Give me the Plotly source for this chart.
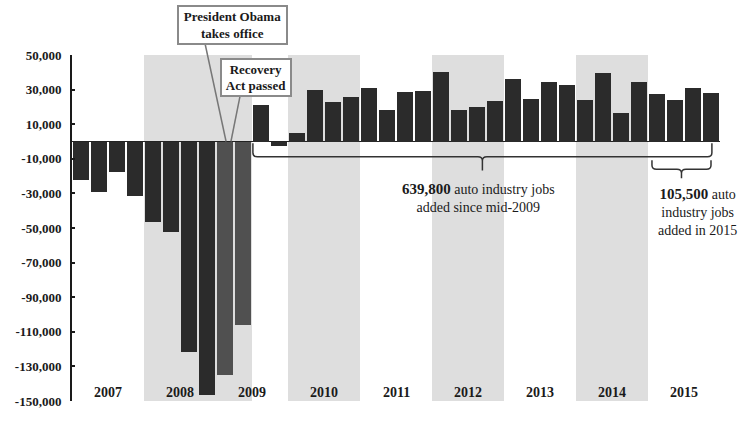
import plotly.graph_objects as go

# Quarterly change in auto industry employment, 2007 Q1 - 2015 Q4
years = ["2007", "2008", "2009", "2010", "2011", "2012", "2013", "2014", "2015"]
quarters_per_year = 4
job_change = [
    -22400, -29200, -17900, -31500,      # 2007
    -46700, -52400, -121800, -146300,    # 2008
    -134800, -106000, 21200, -2800,      # 2009
    4800, 29800, 23000, 25500,           # 2010
    31200, 18500, 28700, 29300,          # 2011
    40000, 18500, 19900, 23300,          # 2012
    36300, 24600, 34600, 32900,          # 2013
    24000, 39700, 16600, 34200,          # 2014
    27200, 24200, 30800, 28300,          # 2015
]
tick_values = [50000, 30000, 10000, -10000, -30000, -50000, -70000,
               -90000, -110000, -130000, -150000]
tick_labels = ["50,000", "30,000", "10,000", "-10,000", "-30,000", "-50,000",
               "-70,000", "-90,000", "-110,000", "-130,000", "-150,000"]

# Shaded periods, as (first quarter index, last quarter index)
shaded_periods = [(4, 9), (12, 15), (20, 23), (28, 31)]
# Quarters drawn in the lighter tone (early 2009)
highlight_quarters = [8, 9]

# Bracketed spans: (first quarter, last quarter, label)
recovery_span = (10, 35)
year_span_2015 = (32, 35)
recovery_label = "<b><span style='font-size:15px'>639,800</span></b> auto industry jobs<br>added since mid-2009"
label_2015 = "<b><span style='font-size:15px'>105,500</span></b> auto<br>industry jobs<br>added in 2015"

FONT = "Liberation Serif, Times New Roman, serif"
DARK = "#2b2b2b"
LIGHT = "#505050"
SHADE = "#dedede"

x_range = (-0.5, len(job_change) - 0.5)
y_range = (-150000, 50000)


def xp(xd):
    return (xd - x_range[0]) / (x_range[1] - x_range[0])


def yp(yd):
    return (yd - y_range[0]) / (y_range[1] - y_range[0])


xs = list(range(len(job_change)))
colors = [LIGHT if i in highlight_quarters else DARK for i in xs]

fig = go.Figure()
fig.add_trace(go.Bar(
    x=xs, y=job_change, marker=dict(color=colors, line=dict(width=0)),
    width=0.88, hoverinfo="skip", showlegend=False,
))

shapes = []
for a, b in shaded_periods:
    shapes.append(dict(type="rect", xref="x", yref="paper", x0=a - 0.5, x1=b + 0.5,
                       y0=0, y1=1, fillcolor=SHADE, line=dict(width=0), layer="below"))


def brace(x0, x1, ytop, ymid, ybot):
    rx, ry = 0.25, 2300
    xc = (x0 + x1) / 2
    pts = [
        ("M", x0, ytop), ("L", x0, ymid + ry), ("Q", x0, ymid, x0 + rx, ymid),
        ("L", xc - rx, ymid), ("Q", xc, ymid, xc, ymid - ry), ("L", xc, ybot),
        ("M", xc, ymid - ry), ("Q", xc, ymid, xc + rx, ymid),
        ("L", x1 - rx, ymid), ("Q", x1, ymid, x1, ymid + ry), ("L", x1, ytop),
    ]
    parts = []
    for p in pts:
        cmd = p[0]
        coords = p[1:]
        s = []
        for i in range(0, len(coords), 2):
            s.append(f"{xp(coords[i]):.5f},{yp(coords[i + 1]):.5f}")
        parts.append(cmd + " " + " ".join(s))
    return " ".join(parts)


shapes.append(dict(type="path", xref="paper", yref="paper",
                   path=brace(recovery_span[0] - 0.45, recovery_span[1] + 0.05, -1000, -8800, -16700),
                   line=dict(color="#333333", width=1.5)))
shapes.append(dict(type="path", xref="paper", yref="paper",
                   path=brace(year_span_2015[0] - 0.28, year_span_2015[1], -10900, -16100, -21300),
                   line=dict(color="#333333", width=1.5)))

# Callout leader lines from the two event boxes down to early 2009
shapes.append(dict(type="line", xref="paper", yref="paper",
                   x0=0.2052, y0=1.034, x1=xp(8.06), y1=yp(0),
                   line=dict(color="#777777", width=1.5)))
shapes.append(dict(type="line", xref="paper", yref="paper",
                   x0=0.2593, y0=0.881, x1=xp(8.33), y1=yp(0),
                   line=dict(color="#777777", width=1.5)))

annotations = []
for k, yr in enumerate(years):
    annotations.append(dict(
        x=k * quarters_per_year + 1.5, y=-145000, xref="x", yref="y",
        text=f"<b>{yr}</b>", showarrow=False, xanchor="center", yanchor="middle",
        font=dict(family=FONT, size=14, color="#1a1a1a"),
    ))

annotations.append(dict(
    x=0.2477, y=1.0878, xref="paper", yref="paper", text="<b>President Obama<br>takes office</b>",
    showarrow=False, xanchor="center", yanchor="middle",
    font=dict(family=FONT, size=13, color="#1a1a1a"),
    bgcolor="white", bordercolor="#8a8a8a", borderwidth=2, borderpad=1,
    width=105, height=34, align="center",
))
annotations.append(dict(
    x=0.284, y=0.936, xref="paper", yref="paper", text="<b>Recovery<br>Act passed</b>",
    showarrow=False, xanchor="center", yanchor="middle",
    font=dict(family=FONT, size=13, color="#1a1a1a"),
    bgcolor="white", bordercolor="#8a8a8a", borderwidth=2, borderpad=1,
    width=66, height=33, align="center",
))
annotations.append(dict(
    x=(recovery_span[0] + recovery_span[1]) / 2 - 0.4, y=-32500, xref="x", yref="y",
    text=recovery_label, showarrow=False, align="center", xanchor="center", yanchor="middle",
    font=dict(family=FONT, size=14, color="#1a1a1a"),
))
annotations.append(dict(
    x=34.25, y=-40500, xref="x", yref="y",
    text=label_2015, showarrow=False, align="center", xanchor="center", yanchor="middle",
    font=dict(family=FONT, size=14, color="#1a1a1a"),
))

fig.update_layout(
    width=741, height=421,
    margin=dict(l=72, r=21, t=55, b=13),
    paper_bgcolor="white", plot_bgcolor="white",
    bargap=0, shapes=shapes, annotations=annotations,
    font=dict(family=FONT, color="#1a1a1a"),
    xaxis=dict(range=list(x_range), showticklabels=False, showgrid=False,
               zeroline=False, showline=False, ticks=""),
    yaxis=dict(range=list(y_range), tickvals=tick_values, ticktext=tick_labels,
               showgrid=False, zeroline=True, zerolinecolor="#222222", zerolinewidth=1,
               showline=True, linecolor="#1a1a1a", linewidth=2,
               ticks="inside", ticklen=3, tickwidth=1.5, tickcolor="#1a1a1a",
               ticklabelstandoff=6,
               tickfont=dict(family=FONT, size=13, color="#1a1a1a", weight="bold")),
)

fig.write_html("out.html")
